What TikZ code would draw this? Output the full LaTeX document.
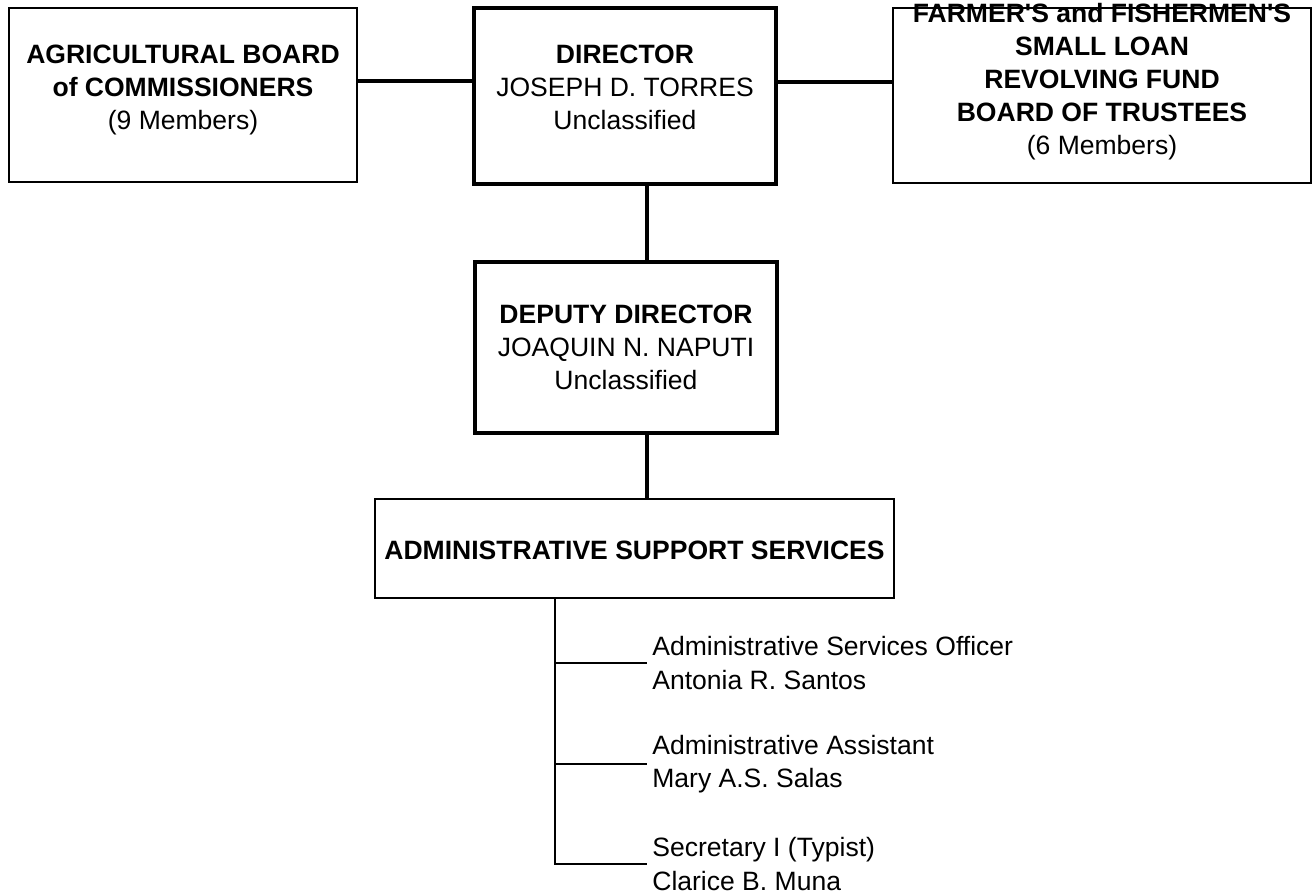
\documentclass[tikz,border=0pt]{standalone}
\usepackage{fontspec}
\setmainfont{Liberation Sans}
\usepackage{tikz}
\usetikzlibrary{calc,positioning}
\tikzset{%
	board/.style  = {draw, rectangle, line width=1.2pt, align=center, inner sep=0pt},
	chief/.style  = {draw, rectangle, line width=2.3pt, align=center, inner sep=0pt},
	link/.style   = {line width=2.5pt},
	branch/.style = {line width=1.3pt},
	staff/.style  = {anchor=west, align=left, inner sep=0.1cm},
}

\begin{document}
\begin{tikzpicture}[x=0.02cm, y=-0.02cm, font=\fontsize{15.1pt}{18.8pt}\selectfont]
	\useasboundingbox (0,0) rectangle (1314,894);
	\node[board, minimum width=6.96cm, text height=2.43cm, text depth=1.05cm] (agri) at (183,95)
		{\textbf{AGRICULTURAL BOARD}\\ \textbf{of COMMISSIONERS}\\ (9 Members)};
	\node[chief, minimum width=6.04cm, text height=2.43cm, text depth=1.09cm] (director) at (625,96)
		{\textbf{DIRECTOR}\\ JOSEPH D. TORRES\\ Unclassified};
	\node[board, minimum width=8.36cm, text height=2.93cm, text depth=0.57cm] (fund) at (1102,95.5)
		{\textbf{FARMER\textquotesingle S and FISHERMEN\textquotesingle S}\\ \textbf{SMALL LOAN}\\ \textbf{REVOLVING FUND}\\ \textbf{BOARD OF TRUSTEES}\\ (6 Members)};
	\node[chief, minimum width=6.04cm, text height=2.55cm, text depth=0.87cm] (deputy) at (626,347.5)
		{\textbf{DEPUTY DIRECTOR}\\ JOAQUIN N. NAPUTI\\ Unclassified};
	\node[board, minimum width=10.38cm, text height=1.21cm, text depth=0.77cm] (admin) at (634.5,548.5)
		{\textbf{ADMINISTRATIVE SUPPORT SERVICES}};
	
	\draw[link] ([yshift=0.28cm]agri.east) -- ([yshift=0.28cm]agri.east -| director.west);
	\draw[link] ([yshift=0.28cm]director.east) -- ([yshift=0.28cm]director.east -| fund.west);
	\draw[link] ([xshift=0.44cm]director.south) -- ([xshift=0.44cm]director.south |- deputy.north);
	\draw[link] ([xshift=0.42cm]deputy.south) -- ([xshift=0.42cm]deputy.south |- admin.north);
	
	\node[staff] (officer) at (647,663) {Administrative Services Officer\\ Antonia R. Santos};
	\node[staff] (assistant) at (647,764) {Administrative Assistant\\ Mary A.S. Salas};
	\node[staff] (typist) at (647,864) {Secretary I (Typist)\\ Clarice B. Muna};
	\coordinate (trunk) at ([xshift=-1.59cm]admin.south);
	\foreach \n in {officer,assistant,typist}
		\draw[branch] (trunk) |- (\n.west);
\end{tikzpicture}
\end{document}
